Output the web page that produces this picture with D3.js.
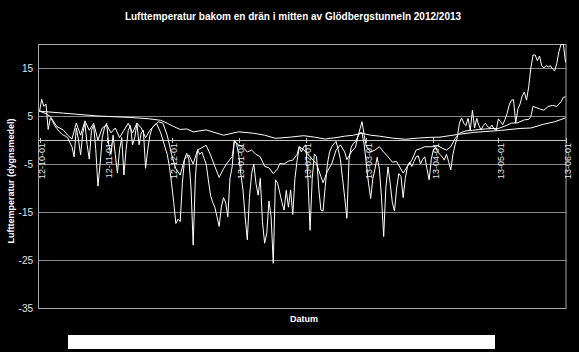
<!DOCTYPE html>
<html>
<head>
<meta charset="utf-8">
<script src="https://cdn.jsdelivr.net/npm/d3@7"></script>
<style>
  body { margin: 0; background: #000; }
  svg { display: block; font-family: Arial, "Liberation Sans", sans-serif; }
</style>
</head>
<body>
<svg id="chart" width="579" height="352"></svg>
<script>
/***********************************************************************/
// Data

var startDate = new Date(2012, 9, 1);
var endDate = new Date(2013, 5, 1);

var yTicks = [-35, -25, -15, -5, 5, 15];
var gridValues = [-25, -15, -5, 0, 5, 15];
var monthTicks = ['2012-10-01', '2012-11-01', '2012-12-01', '2013-01-01', '2013-02-01',
                  '2013-03-01', '2013-04-01', '2013-05-01', '2013-06-01'];

// Series C: daily values from 2012-10-01 (most volatile)
var tempC = [
  5.9, 8.5, 7.0, 7.5, 2.2, 4.5, 4.0, 3.0, 2.4, 1.8,
  1.4, 1.0, 0.8, 0.5, -0.5, -1.4, -3.5, 2.5, 0, -3.1,
  1.5, 3.5, -1, -4, 2, 3, -2, -9.6, -5, 0.5,
  2.5, 3.5, -1, -3, 1, -3, -6.9, -2, 0.5, -7.3,
  -2, 2, 3, -1, 0.5, 3.5, -1, 1.5, 2, -5.9,
  -2, 1, 2.5, 3, 3.5, 2.5, 1.5, 0, -1.5, -3,
  -5.5, -9, -13, -17.4, -16.5, -17, -9, -4, -2.8, -4,
  -10, -21.9, -8, -2, -3, -2.5, -3.8, -5, -8.3, -11.5,
  -13, -14, -16, -18, -14, -12, -13, -16, -8, -5.6,
  0, -0.7, -3, -7, -10.4, -16, -20.8, -12, -7, -5,
  -9, -11.5, -8, -17, -21.5, -19.4, -12.7, -16, -25.7, -8.3,
  -9, -11, -13, -14.6, -10.5, -14, -10.4, -15.5, -8, -4.3,
  -1.4, -2.5, -1.5, -1, -8, -18.8, -8, -2.9, -3.5, -10,
  -14.6, -14.8, -9.7, -5, -2.5, -1.4, -0.8, -0.3, -2, -4,
  -8, -12, -16.3, -4, -1.5, -0.7, -0.3, 0.6, 1.5, 1.5,
  -1, -5, -9, -12.2, -8, -6, -3.6, -6, -12, -20.1,
  -10, -5.6, -9, -13, -14.8, -10, -7, -7.6, -12, -8,
  -5.5, -4.6, -5.5, -4.5, -3.5, -3.3, -5, -4, -3.5, -6,
  -8.3, -4, -2, -1.5, -2.5, -3, -3.5, -4.2, -3, -4.5,
  -6.25, -3, -1, 0.5, 3.5, 4.6, 3.5, 3, 4.5, 2,
  6.2, 2.5, 4.5, 3, 2.1, 3, 3.5, 2.8, 2.5, 3.1,
  2.3, 2, 4.4, 3.8, 3.2, 4.2, 5.5, 7.3, 8.3, 8.4,
  3.5, 6.5, 7.5, 9.2, 10, 8.3, 11.1, 15, 17.7, 17.7,
  16.5, 17.5, 15.5, 15, 15.5, 15.2, 15.5, 14.8, 14.4, 16,
  18.5, 20, 20, 16.2
];

// Series B: day number since 2012-10-01, value
var dagB = [0, 3, 5, 8, 11, 13, 15, 17, 19, 21, 23, 25, 27, 29, 31, 33, 35, 37, 39, 41,
            43, 45, 47, 49, 51, 53, 55, 57, 59, 61, 63, 65, 67, 69, 71, 73, 75, 77, 79, 81,
            83, 85, 87, 89, 90, 92, 94, 96, 98, 100, 102, 104, 106, 108, 110, 111, 113, 115, 117, 119,
            120, 122, 125, 128, 130, 131, 133, 135, 137, 139, 141, 142, 144, 146, 147, 149, 150, 151, 153, 155,
            157, 159, 161, 163, 165, 168, 170, 172, 174, 176, 178, 180, 182, 184, 186, 188, 190, 192, 194, 197,
            200, 203, 206, 209, 212, 215, 218, 221, 224, 226, 227, 228, 231, 233, 235, 237, 239, 241, 242, 243];
var tempB = [6, 5.5, 4.9, 2.8, 2.1, 1.0, 0.2, 3.5, 1, 4, 2, 3.5, 0, 2.5, 3.2, 1.5, 2.5, 0.5, 2, 3.5,
             1.5, 3.5, 2.5, 0.5, 2, 3, 3.8, 3.5, 1, -3, -6, -7.3, -4, -3.1, -5, -2.1, -1.6, -1.1, -3.1, -5.5,
             -7.8, -6, -4.6, -3.5, -0.3, -1, -1.5, -2.5, -2.1, -3, -3.5, -5.5, -5.8, -7, -6, -4.9, -5, -4.4, -4.2, -3,
             -1.4, -2, -3.5, -5, -7.6, -8.9, -6.5, -5, -2.1, -1, -2.5, -4.1, -2.5, -1.5, 0.6, 3.8, 1, -1.4, -2.5, -2.1,
             -1.4, -2.5, -3.5, -4.6, -4.5, -6.9, -5.5, -4.2, -2.1, -1.8, -1.4, -1.4, -1.4, -1.2, -1.7, -2.1, -1.4, 0.3, 1.4, 1.9,
             2.0, 2.2, 2.3, 2.4, 2.4, 2.9, 3.5, 3.6, 4.2, 4.3, 4.9, 7, 6.5, 6.2, 7, 7.2, 7, 8, 8.9, 9.0];

// Series A: smooth curve
var dagA = [0, 11, 27, 42, 51, 56, 59, 62, 65, 68, 71, 77, 85, 92, 99, 104, 109, 116, 122, 127,
            132, 137, 141, 145, 149, 153, 157, 163, 169, 175, 180, 185, 194, 201, 213, 222, 227, 233, 238, 243];
var tempA = [6.0, 5.6, 5.0, 4.7, 4.4, 4.1, 3.5, 2.8, 2.2, 2.3, 1.7, 2.1, 1.0, 1.7, 1.4, 1.0, 0.35, 0.6, 0.9, 0.6,
             0.2, 0.5, 0.8, 1.0, 1.4, 1.0, 0.8, 0.4, 0.15, 0.4, 0.55, 0.6, 1.2, 1.6, 2.0, 2.4, 2.5, 3.3, 3.8, 4.6];

/***********************************************************************/
// Layout

var plot = { left: 38.5, right: 566, top: 44, bottom: 308 };
var svg = d3.select('#chart');

var xScale = d3.scaleTime().domain([startDate, endDate]).range([39.5, 565.5]);
var yScale = d3.scaleLinear().domain([-35, 20]).range([plot.bottom, plot.top]);

function dayDate(d){ return d3.timeDay.offset(startDate, d) }

svg.append('rect').attr('width', 579).attr('height', 352).attr('fill', '#000');

// Title
svg.append('text')
  .attr('x', 293).attr('y', 20)
  .attr('text-anchor', 'middle')
  .attr('fill', '#fff').attr('font-size', 10).attr('font-weight', 'bold')
  .text('Lufttemperatur bakom en drän i mitten av Glödbergstunneln 2012/2013');

// Gridlines
svg.selectAll('.grid').data(gridValues).enter().append('line')
  .attr('x1', plot.left).attr('x2', plot.right)
  .attr('y1', d => yScale(d) + 0.5).attr('y2', d => yScale(d) + 0.5)
  .attr('stroke', d => d === 0 ? '#c8c8c8' : '#8a8a8a').attr('stroke-width', 1);

// Plot border
svg.append('rect')
  .attr('x', plot.left).attr('y', plot.top + 0.5)
  .attr('width', plot.right - plot.left).attr('height', plot.bottom - plot.top)
  .attr('fill', 'none').attr('stroke', '#a8a8a8').attr('stroke-width', 1);

// Y ticks and labels
svg.selectAll('.ytick').data(yTicks).enter().append('text')
  .attr('x', 33).attr('y', d => yScale(d)).attr('dy', '0.35em')
  .attr('text-anchor', 'end').attr('fill', '#e6e6e6').attr('font-size', 10)
  .text(d => d);

svg.append('text')
  .attr('transform', 'translate(14,181) rotate(-90)')
  .attr('text-anchor', 'middle').attr('fill', '#fff')
  .attr('font-size', 9).attr('font-weight', 'bold')
  .text('Lufttemperatur (dygnsmedel)');

// X ticks on zero line
var parseDay = d3.timeParse('%Y-%m-%d');
var fmt = d3.timeFormat('%y-%m-%d');
var y0 = yScale(0);

svg.selectAll('.xtickmark').data(monthTicks).enter().append('line')
  .attr('x1', d => Math.round(xScale(parseDay(d))) + 0.5)
  .attr('x2', d => Math.round(xScale(parseDay(d))) + 0.5)
  .attr('y1', y0 - 2).attr('y2', y0 + 3)
  .attr('stroke', '#c8c8c8');

svg.selectAll('.xtick').data(monthTicks).enter().append('text')
  .attr('transform', d => 'translate(' + (xScale(parseDay(d)) + 2) + ',' + (y0 + 3) + ') rotate(-90)')
  .attr('dy', '0.35em')
  .attr('text-anchor', 'end').attr('fill', '#e6e6e6').attr('font-size', 9)
  .text(d => fmt(parseDay(d)));

svg.append('text')
  .attr('x', 304).attr('y', 322)
  .attr('text-anchor', 'middle').attr('fill', '#fff')
  .attr('font-size', 9).attr('font-weight', 'bold')
  .text('Datum');

// Empty legend box
svg.append('rect')
  .attr('x', 68).attr('y', 335).attr('width', 427).attr('height', 14)
  .attr('fill', '#fff');

/***********************************************************************/
// Lines

svg.append('clipPath').attr('id', 'clip').append('rect')
  .attr('x', plot.left).attr('y', plot.top)
  .attr('width', plot.right - plot.left).attr('height', plot.bottom - plot.top);

var line = d3.line().x(d => xScale(d[0])).y(d => yScale(d[1]));
var g = svg.append('g').attr('clip-path', 'url(#clip)');

var seriesA = dagA.map((d, i) => [dayDate(d), tempA[i]]);
var seriesB = dagB.map((d, i) => [dayDate(d), tempB[i]]);
var seriesC = tempC.map((v, i) => [dayDate(i), v]);

[seriesA, seriesB, seriesC].forEach(s => {
  g.append('path').attr('d', line(s))
    .attr('fill', 'none').attr('stroke', '#fff').attr('stroke-width', 1)
    .attr('stroke-linejoin', 'round');
});
</script>
</body>
</html>
